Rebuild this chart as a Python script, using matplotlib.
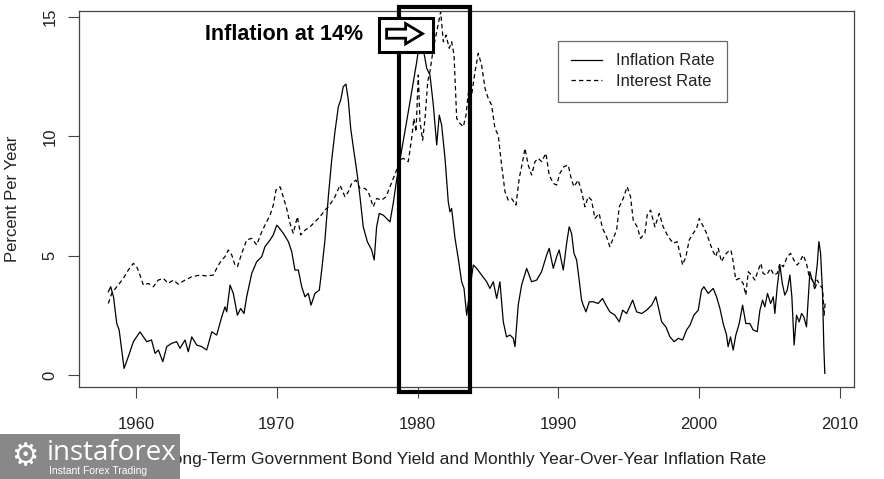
import matplotlib
matplotlib.use('Agg')
import matplotlib.pyplot as plt
from matplotlib.patches import Rectangle, FancyArrow

# monthly YoY inflation
infl_year = [1958.03, 1958.2, 1958.4, 1958.63, 1958.8, 1959.15, 1959.45, 1959.81, 1960.28, 1960.76,
             1961.1, 1961.35, 1961.59, 1961.9, 1962.18, 1962.53, 1962.89, 1963.12, 1963.48, 1963.71,
             1963.96, 1964.31, 1964.67, 1965.02, 1965.38, 1965.73, 1966.09, 1966.32, 1966.44, 1966.68,
             1966.91, 1967.2, 1967.43, 1967.67, 1967.86, 1968.22, 1968.57, 1968.93, 1969.16, 1969.52,
             1969.75, 1970.0, 1970.11, 1970.46, 1970.82, 1971.06, 1971.29, 1971.53, 1971.77, 1972.0,
             1972.24, 1972.43, 1972.71, 1973.02, 1973.19, 1973.42, 1973.66, 1973.9, 1974.13, 1974.37,
             1974.54, 1974.72, 1974.91, 1975.08, 1975.25, 1975.43, 1975.67, 1975.91, 1976.14, 1976.43,
             1976.74, 1976.92, 1977.09, 1977.28, 1977.56, 1977.8, 1978.04, 1978.27, 1978.51, 1978.75,
             1979.22, 1979.58, 1979.94, 1980.17, 1980.33, 1980.48, 1980.65, 1980.88, 1981.12, 1981.36,
             1981.54, 1981.71, 1981.95, 1982.18, 1982.3, 1982.42, 1982.66, 1982.89, 1983.13, 1983.3,
             1983.49, 1983.72, 1983.96, 1984.2, 1984.55, 1984.91, 1985.14, 1985.38, 1985.62, 1985.85,
             1986.09, 1986.32, 1986.56, 1986.8, 1986.92, 1987.15, 1987.39, 1987.75, 1988.1, 1988.46,
             1988.81, 1989.17, 1989.35, 1989.64, 1989.88, 1990.06, 1990.35, 1990.59, 1990.77, 1990.94,
             1991.11, 1991.3, 1991.48, 1991.65, 1991.77, 1991.96, 1992.2, 1992.48, 1992.83, 1993.14,
             1993.38, 1993.66, 1994.02, 1994.33, 1994.57, 1994.85, 1995.28, 1995.56, 1995.92, 1996.27,
             1996.63, 1996.93, 1997.1, 1997.34, 1997.64, 1997.93, 1998.23, 1998.52, 1998.83, 1999.11,
             1999.35, 1999.63, 1999.94, 2000.17, 2000.34, 2000.65, 2001.0, 2001.24, 2001.48, 2001.71,
             2001.95, 2002.06, 2002.23, 2002.42, 2002.61, 2002.85, 2003.09, 2003.32, 2003.61, 2003.84,
             2004.13, 2004.32, 2004.51, 2004.67, 2004.86, 2005.08, 2005.27, 2005.38, 2005.55, 2005.74,
             2005.91, 2006.09, 2006.26, 2006.45, 2006.59, 2006.75, 2006.92, 2007.11, 2007.28, 2007.44,
             2007.63, 2007.75, 2007.87, 2008.03, 2008.22, 2008.39, 2008.51, 2008.63, 2008.77, 2008.86,
             2008.93]
infl_rate = [3.49, 3.70, 3.28, 2.16, 1.89, 0.28, 0.77, 1.40, 1.81, 1.40,
             1.47, 0.91, 1.05, 0.56, 1.19, 1.33, 1.40, 1.12, 1.47, 0.98,
             1.60, 1.26, 1.19, 1.05, 1.81, 1.68, 2.44, 2.86, 2.65, 3.77,
             3.42, 2.51, 2.79, 2.58, 3.28, 4.26, 4.75, 4.96, 5.38, 5.66,
             5.87, 6.28, 6.21, 5.94, 5.59, 5.17, 4.40, 4.40, 3.70, 3.28,
             3.42, 2.93, 3.42, 3.56, 4.40, 5.66, 7.47, 9.01, 10.19, 11.24,
             11.52, 12.08, 12.19, 11.52, 10.33, 9.56, 8.59, 7.47, 6.21, 5.59,
             5.24, 4.82, 6.21, 6.77, 6.70, 6.56, 6.42, 7.19, 8.17, 9.01,
             10.61, 11.87, 13.12, 14.10, 14.38, 13.41, 12.85, 12.57, 11.31, 9.64,
             10.89, 10.47, 9.08, 7.26, 6.84, 6.98, 5.73, 4.89, 3.91, 3.63,
             2.51, 3.63, 4.61, 4.47, 4.19, 3.91, 3.63, 3.91, 3.21, 3.91,
             2.23, 1.60, 1.68, 1.54, 1.19, 2.93, 3.77, 4.47, 3.91, 3.98,
             4.33, 5.03, 5.31, 4.47, 4.96, 5.24, 4.40, 5.52, 6.21, 5.94,
             5.10, 4.82, 3.98, 3.14, 2.93, 2.65, 3.07, 3.07, 3.00, 3.21,
             2.93, 2.65, 2.51, 2.23, 2.72, 2.58, 3.14, 2.65, 2.58, 2.72,
             2.93, 3.28, 2.86, 2.23, 2.02, 1.60, 1.40, 1.54, 1.47, 1.89,
             2.09, 2.51, 2.72, 3.56, 3.70, 3.42, 3.63, 3.28, 2.79, 2.16,
             1.68, 1.19, 1.60, 1.05, 1.68, 2.16, 2.93, 2.16, 2.16, 1.89,
             1.82, 2.72, 3.14, 2.86, 3.42, 3.00, 3.28, 2.58, 3.70, 4.61,
             3.84, 3.35, 3.56, 4.19, 3.28, 1.26, 2.51, 2.23, 2.58, 2.44,
             2.02, 3.14, 4.33, 3.98, 3.77, 4.61, 5.59, 5.10, 3.42, 1.19,
             0.07]

# long-term government bond yield
rate_year = [1958.03, 1958.27, 1958.63, 1959.1, 1959.45, 1959.81, 1960.05, 1960.28, 1960.52, 1960.87,
             1961.23, 1961.58, 1961.94, 1962.29, 1962.65, 1963.0, 1963.48, 1963.96, 1964.55, 1965.02,
             1965.49, 1965.85, 1966.09, 1966.32, 1966.56, 1966.8, 1967.03, 1967.2, 1967.51, 1967.86,
             1968.22, 1968.57, 1968.93, 1969.16, 1969.52, 1969.75, 1969.94, 1970.23, 1970.46, 1970.7,
             1970.94, 1971.17, 1971.46, 1971.7, 1972.0, 1972.36, 1972.71, 1973.07, 1973.42, 1973.66,
             1973.9, 1974.13, 1974.49, 1974.84, 1975.08, 1975.32, 1975.62, 1975.91, 1976.26, 1976.5,
             1976.85, 1977.09, 1977.45, 1977.76, 1978.04, 1978.27, 1978.51, 1978.75, 1978.98, 1979.34,
             1979.58, 1979.74, 1979.89, 1980.05, 1980.17, 1980.36, 1980.53, 1980.72, 1980.88, 1981.12,
             1981.36, 1981.64, 1981.83, 1982.02, 1982.25, 1982.42, 1982.59, 1982.78, 1983.01, 1983.25,
             1983.44, 1983.6, 1983.84, 1984.08, 1984.31, 1984.55, 1984.79, 1985.02, 1985.26, 1985.5,
             1985.73, 1985.97, 1986.21, 1986.44, 1986.68, 1986.99, 1987.22, 1987.46, 1987.63, 1987.86,
             1988.1, 1988.34, 1988.57, 1988.81, 1989.12, 1989.35, 1989.64, 1989.88, 1990.11, 1990.4,
             1990.7, 1990.94, 1991.11, 1991.41, 1991.65, 1991.89, 1992.12, 1992.36, 1992.6, 1992.9,
             1993.14, 1993.38, 1993.66, 1993.95, 1994.14, 1994.33, 1994.61, 1994.89, 1995.13, 1995.32,
             1995.6, 1995.84, 1996.15, 1996.31, 1996.55, 1996.86, 1997.17, 1997.45, 1997.8, 1998.16,
             1998.44, 1998.64, 1998.83, 1999.06, 1999.3, 1999.58, 1999.82, 2000.01, 2000.25, 2000.53,
             2000.77, 2001.0, 2001.19, 2001.36, 2001.59, 2001.83, 2002.06, 2002.26, 2002.42, 2002.61,
             2002.85, 2003.13, 2003.32, 2003.49, 2003.73, 2003.96, 2004.2, 2004.39, 2004.55, 2004.79,
             2005.08, 2005.31, 2005.55, 2005.74, 2005.98, 2006.26, 2006.5, 2006.73, 2006.97, 2007.16,
             2007.39, 2007.63, 2007.82, 2008.06, 2008.22, 2008.39, 2008.58, 2008.77, 2008.88, 2008.95]
rate_val = [3.00, 3.42, 3.70, 4.05, 4.40, 4.68, 4.54, 4.19, 3.77, 3.84,
            3.70, 3.98, 4.05, 3.84, 3.98, 3.81, 3.98, 4.12, 4.19, 4.15,
            4.19, 4.61, 4.82, 4.96, 5.24, 5.03, 4.61, 4.54, 5.10, 5.66,
            5.73, 5.45, 6.00, 6.28, 6.70, 7.12, 7.75, 7.89, 7.47, 6.98,
            6.35, 5.94, 6.63, 5.87, 6.07, 6.21, 6.42, 6.63, 6.91, 7.05,
            7.26, 7.47, 7.96, 7.47, 7.68, 8.03, 8.17, 7.82, 7.82, 7.68,
            7.05, 7.40, 7.33, 7.47, 7.89, 8.24, 8.59, 9.01, 9.08, 8.94,
            9.92, 10.75, 10.19, 12.57, 10.61, 9.84, 10.75, 12.29, 12.71, 13.69,
            14.38, 15.22, 13.96, 14.24, 13.69, 13.96, 13.41, 10.75, 10.54, 10.40,
            10.89, 11.80, 11.73, 12.71, 13.48, 12.99, 12.01, 11.59, 11.31, 10.33,
            10.05, 8.80, 7.68, 7.33, 7.40, 7.12, 8.24, 8.94, 9.50, 8.80,
            8.38, 8.94, 9.08, 8.94, 9.29, 8.38, 8.03, 7.96, 8.45, 8.73,
            8.80, 8.17, 7.89, 8.17, 7.68, 7.05, 7.47, 7.33, 6.56, 6.77,
            6.14, 5.87, 5.38, 5.80, 6.07, 7.05, 7.40, 7.89, 7.47, 6.49,
            6.21, 5.73, 5.94, 6.70, 6.91, 6.21, 6.77, 6.21, 5.80, 5.52,
            5.59, 5.10, 4.61, 4.96, 5.66, 5.94, 6.14, 6.56, 6.28, 5.94,
            5.52, 5.17, 4.96, 5.31, 4.75, 5.03, 5.17, 5.24, 4.75, 3.98,
            4.05, 3.84, 3.35, 4.33, 4.19, 3.98, 4.40, 4.68, 4.26, 4.19,
            4.47, 4.19, 4.26, 4.68, 4.54, 4.96, 5.10, 4.82, 4.61, 4.75,
            5.03, 4.68, 4.12, 3.98, 3.56, 3.98, 3.77, 3.63, 2.51, 3.00]

x_ticks = [1960, 1970, 1980, 1990, 2000, 2010]
y_ticks = [0, 5, 10, 15]
focus_years = (1978.68, 1983.72)

plt.rcParams['font.family'] = ['Liberation Sans', 'DejaVu Sans']
txt = '#222222'

fig = plt.figure(figsize=(8.84, 4.79), dpi=100)
ax = fig.add_axes([0.0894, 0.192, 0.8766, 0.785])

ax.plot(infl_year, infl_rate, color='black', lw=0.9, label='Inflation Rate')
ax.plot(rate_year, rate_val, color='black', lw=0.9, dashes=(3.5, 2.5), label='Interest Rate')

ax.set_xlim(1955.95, 2011.0)
ax.set_ylim(-0.5, 15.25)
ax.set_xticks(x_ticks)
ax.set_yticks(y_ticks)
ax.tick_params(direction='out', length=8, width=0.8, color='#444444', labelsize=12, labelcolor=txt)
ax.tick_params(axis='x', pad=13.5)
ax.tick_params(axis='y', pad=7.5)
for lab in ax.get_yticklabels():
    lab.set_rotation(90)
    lab.set_va('center')
for sp in ax.spines.values():
    sp.set_color('#444444')
    sp.set_linewidth(0.9)

ax.set_ylabel('Percent Per Year', fontsize=12, color=txt, labelpad=16)
fig.text(0.526, 0.040, 'Long-Term Government Bond Yield and Monthly Year-Over-Year Inflation Rate',
         ha='center', va='center', fontsize=12.5, color=txt)

leg = ax.legend(loc='upper left', bbox_to_anchor=(0.618, 0.921), fontsize=12, frameon=True,
                fancybox=False, handlelength=1.9, handletextpad=0.8, labelspacing=0.33,
                borderpad=0.76, borderaxespad=0)
leg.get_frame().set_edgecolor('#444444')
leg.get_frame().set_linewidth(0.9)
for t in leg.get_texts():
    t.set_color(txt)

# highlight box over 1979-1983
ax.add_patch(Rectangle((focus_years[0], -0.71), focus_years[1] - focus_years[0], 16.13,
                       fill=False, lw=3.0, edgecolor='black', clip_on=False, zorder=5))
ax.add_patch(Rectangle((1977.26, 13.53), 3.83, 1.43, facecolor='white', lw=2.2,
                       edgecolor='black', clip_on=False, zorder=6))
ax.add_patch(FancyArrow(1977.8, 14.3, 1.35, 0, width=0.38, head_width=0.85, head_length=1.2,
                        length_includes_head=False, facecolor='white', edgecolor='black',
                        lw=2.0, clip_on=False, zorder=7))
ax.text(1976.1, 14.28, 'Inflation at 14%', ha='right', va='center', fontsize=15.5,
        fontweight='bold', color='black', zorder=7)

# watermark block
fig.patches.append(Rectangle((0, 0), 180 / 884, 45 / 479, transform=fig.transFigure,
                             facecolor='#888888', edgecolor='none', zorder=10))
fig.text(25 / 884, 22 / 479, '\u2699', fontsize=22, color='white', ha='center', va='center',
         family='DejaVu Sans', zorder=11)
fig.text(47 / 884, 19 / 479, 'instaforex', fontsize=20, color='white', ha='left', va='baseline',
         family='Open Sans', zorder=11)
fig.text(49 / 884, 13 / 479, 'Instant Forex Trading', fontsize=7.5, color='white', ha='left',
         va='top', zorder=11)

fig.savefig('out.png', dpi=100)
